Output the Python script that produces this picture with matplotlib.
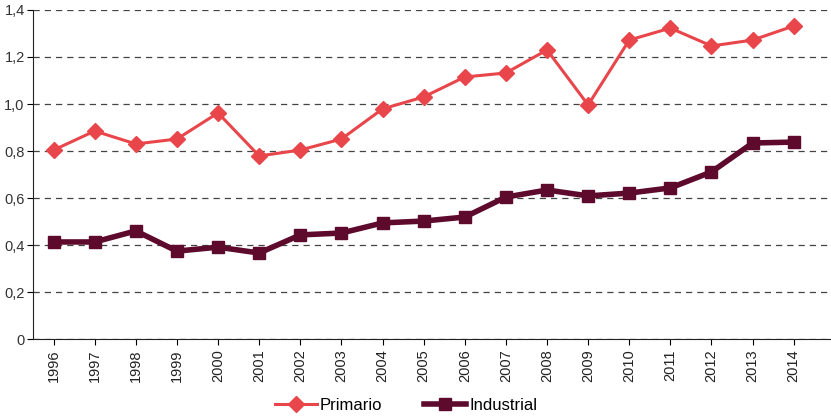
import matplotlib
matplotlib.use('Agg')
import matplotlib.pyplot as plt

plt.rcParams['font.family'] = ['Liberation Sans', 'DejaVu Sans']

years = list(range(1996, 2015))
primario = [0.804, 0.885, 0.830, 0.851, 0.962, 0.779, 0.804, 0.851, 0.979, 1.030,
            1.115, 1.132, 1.230, 0.996, 1.272, 1.323, 1.247, 1.272, 1.332]
industrial = [0.413, 0.413, 0.460, 0.374, 0.391, 0.366, 0.443, 0.451, 0.494, 0.502,
              0.519, 0.604, 0.634, 0.609, 0.621, 0.643, 0.711, 0.834, 0.838]
yticks = [0, 0.2, 0.4, 0.6, 0.8, 1.0, 1.2, 1.4]
ytick_labels = ['0', '0,2', '0,4', '0,6', '0,8', '1,0', '1,2', '1,4']

fig = plt.figure(figsize=(8.31, 4.16), dpi=100)
ax = fig.add_axes([0.0397, 0.185, 0.96, 0.791])

ax.plot(years, primario, c='#E8464B', lw=2.2, marker='D', ms=8.5, label='Primario')
ax.plot(years, industrial, c='#5E0A2C', lw=4, marker='s', ms=8.5, label='Industrial')

ax.set_ylim(0, 1.4)
ax.set_xlim(1995.5, 2014.9)
ax.set_yticks(yticks)
ax.set_yticklabels(ytick_labels, fontsize=10.5, color='#333333')
ax.set_xticks(years)
ax.set_xticklabels([str(y) for y in years], rotation=90, fontsize=10.5, color='#222222')
ax.yaxis.grid(True, ls=(0, (5, 4)), color='#444444', lw=0.9)
ax.set_axisbelow(True)
for s in ['top', 'right']:
    ax.spines[s].set_visible(False)
ax.spines['left'].set_color('#222222')
ax.spines['bottom'].set_color('#222222')
ax.tick_params(axis='y', length=4, pad=2)
ax.tick_params(axis='x', length=4)

fig.legend(loc='center', bbox_to_anchor=(406 / 831, 1 - 405 / 416), ncol=2, frameon=False,
           fontsize=12, handlelength=2.5, columnspacing=2.5, handletextpad=0.2,
           borderpad=0)

plt.savefig('out.png', dpi=100)
